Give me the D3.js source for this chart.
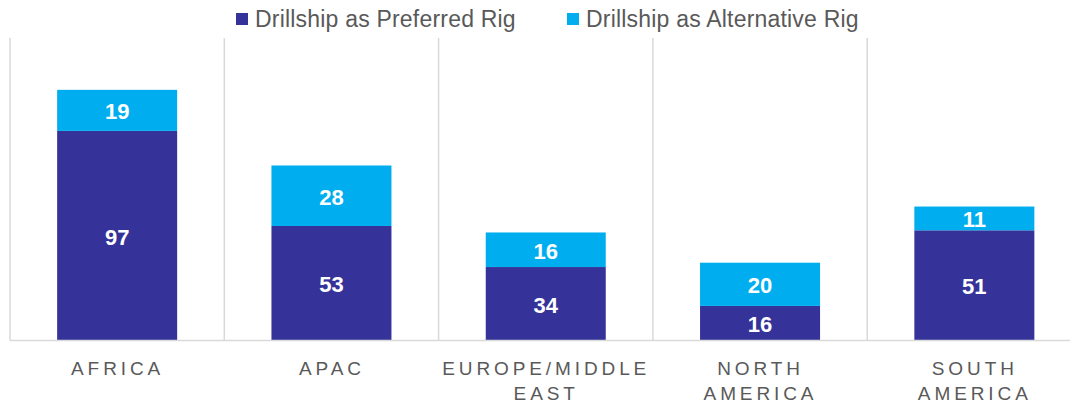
<!DOCTYPE html>
<html>
<head>
<meta charset="utf-8">
<script src="https://cdn.jsdelivr.net/npm/d3@7"></script>
<style>
  html, body { margin: 0; padding: 0; background: #ffffff; }
  svg { display: block; font-family: "Liberation Sans", Arial, Helvetica, sans-serif; }
</style>
</head>
<body>
<svg id="chart" width="1070" height="403"></svg>
<script>
// Drillship demand by region, stacked: preferred rig + alternative rig
const regions = ["AFRICA", "APAC", "EUROPE/MIDDLE EAST", "NORTH AMERICA", "SOUTH AMERICA"];
const regionLines = [["AFRICA"], ["APAC"], ["EUROPE/MIDDLE", "EAST"], ["NORTH", "AMERICA"], ["SOUTH", "AMERICA"]];
const preferred = [97, 53, 34, 16, 51];
const alternative = [19, 28, 16, 20, 11];
const seriesNames = ["Drillship as Preferred Rig", "Drillship as Alternative Rig"];
const seriesColors = ["#353399", "#00AEEF"];

const svg = d3.select("#chart");
const plotLeft = 10, plotRight = 1081.5, plotTop = 38, plotBottom = 340.5;

const x = d3.scaleBand()
  .domain(regions)
  .range([plotLeft, plotRight])
  .paddingInner(0.44)
  .paddingOuter(0.22);

const y = d3.scaleLinear().domain([0, 140]).range([plotBottom, plotTop]);

const rows = regions.map((r, i) => ({ region: r, preferred: preferred[i], alternative: alternative[i] }));
const stacked = d3.stack().keys(["preferred", "alternative"])(rows);

// vertical separators between regions
const half = (x.step() - x.bandwidth()) / 2;
const seps = regions.map(r => x(r) - half).concat([x(regions[regions.length - 1]) + x.bandwidth() + half]);
svg.append("g").selectAll("line").data(seps).join("line")
  .attr("x1", d => d).attr("x2", d => d)
  .attr("y1", plotTop).attr("y2", plotBottom)
  .attr("stroke", "#d9d9d9").attr("stroke-width", 1.5);

// stacked bars
const layers = svg.append("g").selectAll("g").data(stacked).join("g")
  .attr("fill", (d, i) => seriesColors[i]);
layers.selectAll("rect").data(d => d).join("rect")
  .attr("x", d => x(d.data.region))
  .attr("width", x.bandwidth())
  .attr("y", d => y(d[1]))
  .attr("height", d => y(d[0]) - y(d[1]));

// value labels
const valFs = 22;
layers.selectAll("text").data(d => d).join("text")
  .attr("x", d => x(d.data.region) + x.bandwidth() / 2)
  .attr("y", d => (y(d[0]) + y(d[1])) / 2 + valFs * 0.36 + 1)
  .attr("text-anchor", "middle")
  .attr("fill", "#ffffff")
  .attr("font-weight", "bold")
  .attr("font-size", valFs)
  .text(d => d[1] - d[0]);

// baseline
svg.append("line")
  .attr("x1", plotLeft).attr("x2", plotRight)
  .attr("y1", plotBottom).attr("y2", plotBottom)
  .attr("stroke", "#d9d9d9").attr("stroke-width", 1.5);

// category labels
const ls = 3.9;
const cat = svg.append("g").attr("fill", "#595959").attr("font-size", 19)
  .style("letter-spacing", ls + "px");
regions.forEach((r, i) => {
  const cx = x(r) + x.bandwidth() / 2 + ls / 2 - 1.5;
  const t = cat.append("text")
    .attr("text-anchor", "middle")
    .attr("x", cx)
    .attr("y", 375);
  regionLines[i].forEach((line, j) => {
    t.append("tspan")
      .attr("x", cx)
      .attr("dy", j === 0 ? 0 : 25)
      .text(line);
  });
});

// legend
const legendX = [236, 567];
const lg = svg.append("g");
seriesNames.forEach((name, i) => {
  lg.append("rect")
    .attr("x", legendX[i]).attr("y", 13)
    .attr("width", 12).attr("height", 12)
    .attr("fill", seriesColors[i]);
  lg.append("text")
    .attr("x", legendX[i] + 19).attr("y", 27)
    .attr("fill", "#595959")
    .attr("font-size", 23)
    .style("letter-spacing", "0.2px")
    .text(name);
});
</script>
</body>
</html>
